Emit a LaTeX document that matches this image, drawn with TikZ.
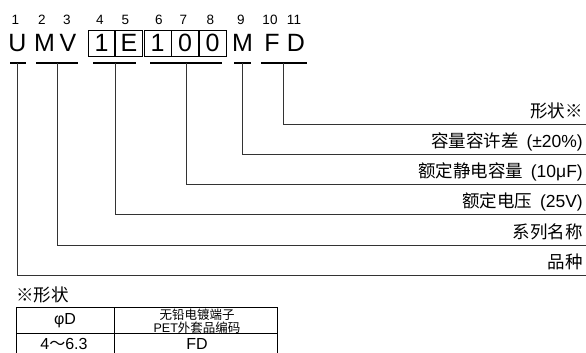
\documentclass[tikz,border=0pt]{standalone}
\usepackage{fontspec}
\setmainfont{Liberation Sans}
\newfontfamily\cjk{Noto Sans CJK SC}
\usetikzlibrary{positioning}
\tikzset{
  code/.style={font=\fontsize{25}{25}\selectfont, inner sep=0pt},
  cell/.style={code, draw, line width=0.8pt, minimum width=26.7pt, minimum height=26.7pt},
  digit/.style={font=\fontsize{13.5}{13.5}\selectfont, inner sep=0pt, anchor=base},
  bar/.style={line width=2pt},
  lead/.style={line width=0.9pt, black!80},
  lab/.style={font=\fontsize{17.5}{17.5}\selectfont, inner sep=0pt, anchor=base east},
  tab/.style={line width=0.8pt},
}
\begin{document}
\begin{tikzpicture}[x=1pt,y=-1pt]
\useasboundingbox (0,0) rectangle (586,353);

% position numbers
\foreach \n/\x in {1/15.5,2/42,3/67,4/100,5/125.5,6/159,7/183.5,8/210.5,9/241,10/270,11/294}
  \node[digit] (p\n) at (\x,24.5) {\n};

% code letters
\node[code] (u) at (17.5,43.3) {U};
\node[code] (m) at (44.5,43.3) {M};
\node[code] (v) at (68,43.3) {V};
\node[cell] (c1) at (101.5,43.3) {1};
\node[cell, right=0pt of c1] (c2) {E};
\node[cell] (c3) at (157.6,43.3) {1};
\node[cell, right=0pt of c3] (c4) {0};
\node[cell, right=0pt of c4] (c5) {0};
\node[code] (m2) at (242.5,43.3) {M};
\node[code] (f) at (272,43.3) {F};
\node[code] (d) at (296,43.3) {D};

% bars under the groups
\draw[bar] (10,63.5) to (26,63.5);
\draw[bar] (36,63.5) to (78,63.5);
\draw[bar] (93,63.5) to (136,63.5);
\draw[bar] (150,63.5) to (222,63.5);
\draw[bar] (234,63.5) to (251,63.5);
\draw[bar] (261,63.5) to (307,63.5);

\coordinate (b1) at (17.5,63.5);
\coordinate (b2) at (57,63.5);
\coordinate (b3) at (115,63.5);
\coordinate (b4) at (186,63.5);
\coordinate (b5) at (242.5,63.5);
\coordinate (b6) at (283.5,63.5);

\coordinate (e6) at (586,124);
\coordinate (e5) at (586,154.3);
\coordinate (e4) at (586,184.6);
\coordinate (e3) at (586,214.9);
\coordinate (e2) at (586,245.2);
\coordinate (e1) at (586,275.5);

\draw[lead] (b6) |- (e6);
\draw[lead] (b5) |- (e5);
\draw[lead] (b4) |- (e4);
\draw[lead] (b3) |- (e3);
\draw[lead] (b2) |- (e2);
\draw[lead] (b1) |- (e1);

\node[lab] (l6) at (583,117) {{\cjk 形状※}};
\node[lab] (l5) at (583,147.3) {{\cjk 容量容许差}\hspace{0.45em}(±20\%)};
\node[lab] (l4) at (583,177.6) {{\cjk 额定静电容量}\hspace{0.45em}(10μF)};
\node[lab] (l3) at (583,207.9) {{\cjk 额定电压}\hspace{0.45em}(25V)};
\node[lab] (l2) at (583,238.2) {{\cjk 系列名称}};
\node[lab] (l1) at (583,268.5) {{\cjk 品种}};

% shape table
\node[font=\fontsize{17.5}{17.5}\selectfont, inner sep=0pt, anchor=base west] (note) at (16,301.5) {{\cjk ※形状}};
\draw[tab] (16,353) -- (16,307) -- (277,307) -- (277,353);
\draw[tab] (114,307) -- (114,353);
\draw[tab] (16,333.5) -- (277,333.5);
\node[font=\fontsize{16}{16}\selectfont, inner sep=0pt] (h1) at (65,321) {φD};
\node[font=\fontsize{12.5}{12.5}\selectfont, inner sep=0pt] (h2) at (197,315) {\cjk 无铅电镀端子};
\node[font=\fontsize{12.5}{12.5}\selectfont, inner sep=0pt] (h3) at (197,327.5) {PET{\cjk 外套品编码}};
\node[font=\fontsize{16}{16}\selectfont, inner sep=0pt] (r1) at (64,343.5) {4{\cjk ～}6.3};
\node[font=\fontsize{16}{16}\selectfont, inner sep=0pt] (r2) at (197,344) {FD};
\end{tikzpicture}
\end{document}
